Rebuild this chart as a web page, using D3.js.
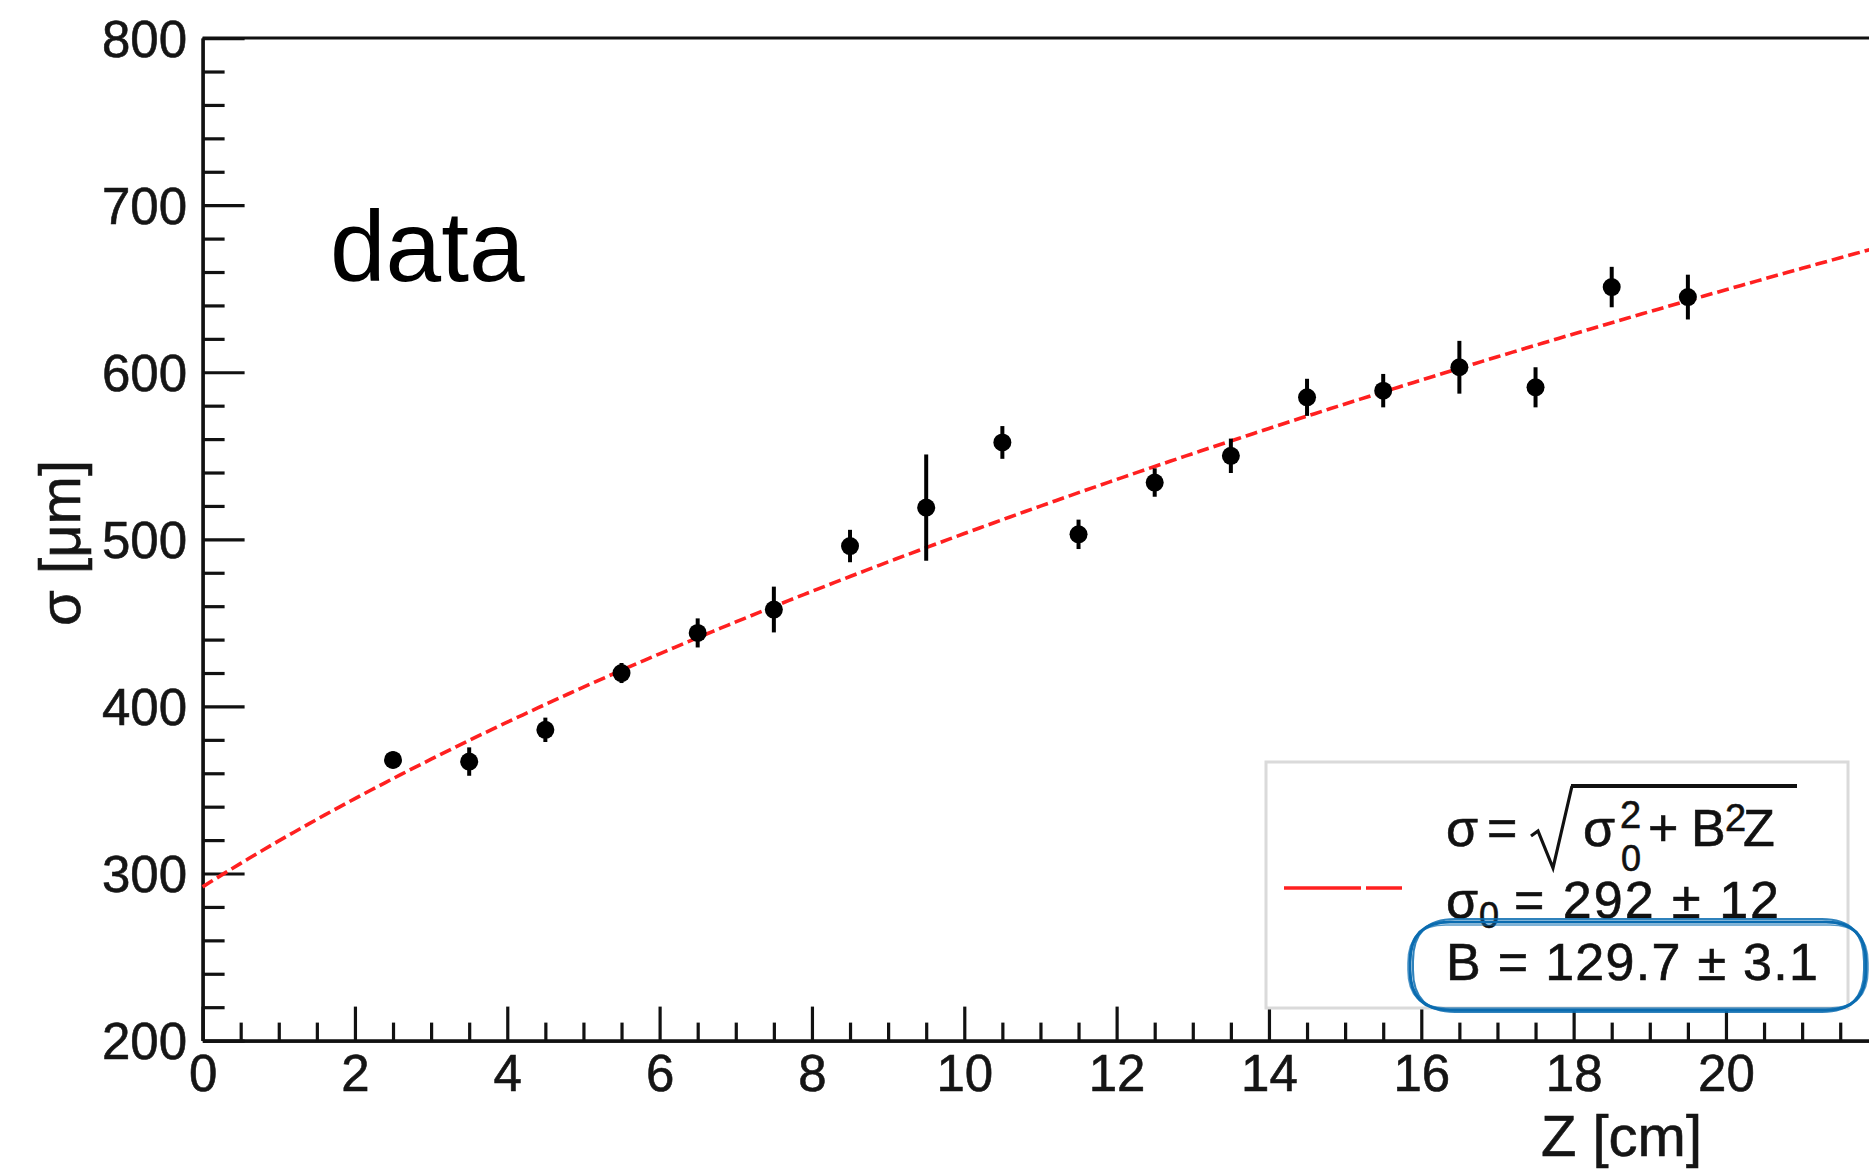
<!DOCTYPE html>
<html>
<head>
<meta charset="utf-8">
<script src="https://cdn.jsdelivr.net/npm/d3@7"></script>
<style>
  html, body { margin: 0; padding: 0; background: #fff; }
  svg { display: block; }
  text { font-family: "Liberation Sans", Arial, Helvetica, sans-serif; }
</style>
</head>
<body>
<svg id="chart" width="1869" height="1169"></svg>
<script>
// measured points: drift distance Z [cm] vs resolution sigma [um]
const zValues     = [2.5, 3.5, 4.5, 5.5, 6.5, 7.5, 8.5, 9.5, 10.5, 11.5, 12.5, 13.5, 14.5, 15.5, 16.5, 17.5, 18.5, 19.5];
const sigmaValues = [368, 367, 386, 420, 444, 458, 496, 519, 558, 503, 534, 550, 585, 589, 603, 591, 651, 645];
const sigmaErrors = [5, 8.5, 7.3, 6, 8.7, 13.7, 9.7, 31.8, 9.8, 8.8, 8.5, 10.3, 11.1, 10, 15.8, 12, 12.1, 13.4];

// fit result shown in the legend
const fitSigma0 = 292;
const fitSigma0Err = 12;
const fitB = 129.7;
const fitBErr = 3.1;

const xMajorTicks = [0, 2, 4, 6, 8, 10, 12, 14, 16, 18, 20];
const yMajorTicks = [200, 300, 400, 500, 600, 700, 800];

const svg = d3.select("#chart");

const x = d3.scaleLinear().domain([0, 22]).range([202.6, 1878.3]);
const y = d3.scaleLinear().domain([200, 800]).range([1040.6, 38.1]);

const xMinor = d3.range(0, 22.01, 0.5).filter(v => xMajorTicks.indexOf(v) < 0);
const yMinor = d3.range(200, 800.01, 20).filter(v => yMajorTicks.indexOf(v) < 0);

// frame top / right
svg.append("path")
    .attr("d", `M${x(0)},${y(800)}H${x(22)}V${y(200)}`)
    .attr("fill", "none").attr("stroke", "#111").attr("stroke-width", 3);

// x axis
const gx = svg.append("g").attr("transform", `translate(0,${y(200)})`);
gx.call(d3.axisBottom(x).tickValues(xMajorTicks).tickSize(-34).tickSizeOuter(0).tickPadding(14));
gx.append("g").call(d3.axisBottom(x).tickValues(xMinor).tickSize(-18).tickSizeOuter(0).tickFormat(""));

// y axis
const gy = svg.append("g").attr("transform", `translate(${x(0)},0)`);
gy.call(d3.axisLeft(y).tickValues(yMajorTicks).tickSize(-42).tickSizeOuter(0).tickPadding(15.5));
gy.append("g").call(d3.axisLeft(y).tickValues(yMinor).tickSize(-22).tickSizeOuter(0).tickFormat(""));

svg.selectAll(".domain").attr("stroke", "#111").attr("stroke-width", 3.2);
svg.selectAll(".tick line").attr("stroke", "#111").attr("stroke-width", 3.2);
svg.selectAll(".tick text").attr("font-size", 51).attr("fill", "#151515")
    .attr("stroke", "#151515").attr("stroke-width", 0.6)
    .attr("font-family", "'Liberation Sans', Arial, Helvetica, sans-serif");
gy.selectAll(".tick text").attr("dy", "0.36em");

// axis titles
svg.append("text").attr("x", 1702).attr("y", 1156)
    .attr("text-anchor", "end").attr("font-size", 58).attr("fill", "#151515")
    .attr("stroke", "#151515").attr("stroke-width", 0.6)
    .text("Z [cm]");
svg.append("text")
    .attr("transform", "translate(80,460) rotate(-90)")
    .attr("text-anchor", "end").attr("font-size", 58).attr("fill", "#151515")
    .attr("stroke", "#151515").attr("stroke-width", 0.6)
    .text("σ [μm]");

// fit curve
const fitCurve = d3.range(0, 22.01, 0.1).map(z => [z, Math.sqrt(fitSigma0 * fitSigma0 + fitB * fitB * z)]);
svg.append("path")
    .datum(fitCurve)
    .attr("d", d3.line().x(d => x(d[0])).y(d => y(d[1])))
    .attr("fill", "none").attr("stroke", "#ff2020").attr("stroke-width", 3.6)
    .attr("stroke-dasharray", "12,5");

// data points with error bars
const pts = zValues.map((z, i) => ({z: z, s: sigmaValues[i], e: sigmaErrors[i]}));
svg.append("g").selectAll("line").data(pts).enter().append("line")
    .attr("x1", d => x(d.z)).attr("x2", d => x(d.z))
    .attr("y1", d => y(d.s - d.e)).attr("y2", d => y(d.s + d.e))
    .attr("stroke", "#000").attr("stroke-width", 4);
svg.append("g").selectAll("circle").data(pts).enter().append("circle")
    .attr("cx", d => x(d.z)).attr("cy", d => y(d.s)).attr("r", 9)
    .attr("fill", "#000");

// "data" label
svg.append("text").attr("x", 330).attr("y", 281)
    .attr("font-size", 100).attr("fill", "#000").text("data");

// legend
const lg = svg.append("g");
lg.append("rect").attr("x", 1266).attr("y", 762).attr("width", 582).attr("height", 246)
    .attr("fill", "#fff").attr("stroke", "#dadada").attr("stroke-width", 3);
lg.append("line").attr("x1", 1284).attr("x2", 1402).attr("y1", 888).attr("y2", 888)
    .attr("stroke", "#ff2020").attr("stroke-width", 3.6).attr("stroke-dasharray", "77,5,37");

const fs = 52;
function t(xp, yp, str, size) {
  return lg.append("text").attr("x", xp).attr("y", yp)
      .attr("font-size", size || fs).attr("fill", "#111")
      .attr("stroke", "#111").attr("stroke-width", 0.6).text(str);
}
// line 1: sigma = sqrt(sigma0^2 + B^2 Z)
t(1446, 846, "σ");
t(1487, 846, "=");
lg.append("path").attr("d", "M1531,836 L1538,831 L1553,868 L1572,786")
    .attr("fill", "none").attr("stroke", "#111").attr("stroke-width", 3.2);
lg.append("line").attr("x1", 1571).attr("x2", 1797).attr("y1", 786).attr("y2", 786)
    .attr("stroke", "#111").attr("stroke-width", 4);
t(1583, 846, "σ");
t(1620, 828, "2", 38);
t(1621, 871, "0", 36);
t(1648, 846, "+");
t(1691, 846, "B");
t(1725, 831, "2", 38);
t(1743, 846, "Z");
// line 2
t(1446, 918, "σ");
t(1479, 928, "0", 36);
t(1514, 918, "= " + fitSigma0 + " ± " + fitSigma0Err).attr("textLength", 265).attr("lengthAdjust", "spacing");
// line 3
t(1446, 980, "B = " + fitB + " ± " + fitBErr).attr("textLength", 372).attr("lengthAdjust", "spacing");

// hand drawn blue highlight around B
function roundBox(x0, y0, x1, y1, r) {
  return `M${x0 + r},${y0} H${x1 - r} Q${x1},${y0} ${x1},${y0 + r} V${y1 - r} Q${x1},${y1} ${x1 - r},${y1}` +
         ` H${x0 + r} Q${x0},${y1} ${x0},${y1 - r} V${y0 + r} Q${x0},${y0} ${x0 + r},${y0} Z`;
}
const hl = svg.append("g").attr("fill", "none").attr("stroke", "#0b6cb0").attr("stroke-linecap", "round");
hl.append("path").attr("d", roundBox(1410, 922, 1866, 1010, 40)).attr("stroke-width", 3);
hl.append("path").attr("d", roundBox(1413, 919, 1864, 1012, 42)).attr("stroke-width", 2).attr("opacity", 0.85);
hl.append("path").attr("d", roundBox(1408, 925, 1868, 1008, 38)).attr("stroke-width", 1.6).attr("opacity", 0.7);
</script>
</body>
</html>
